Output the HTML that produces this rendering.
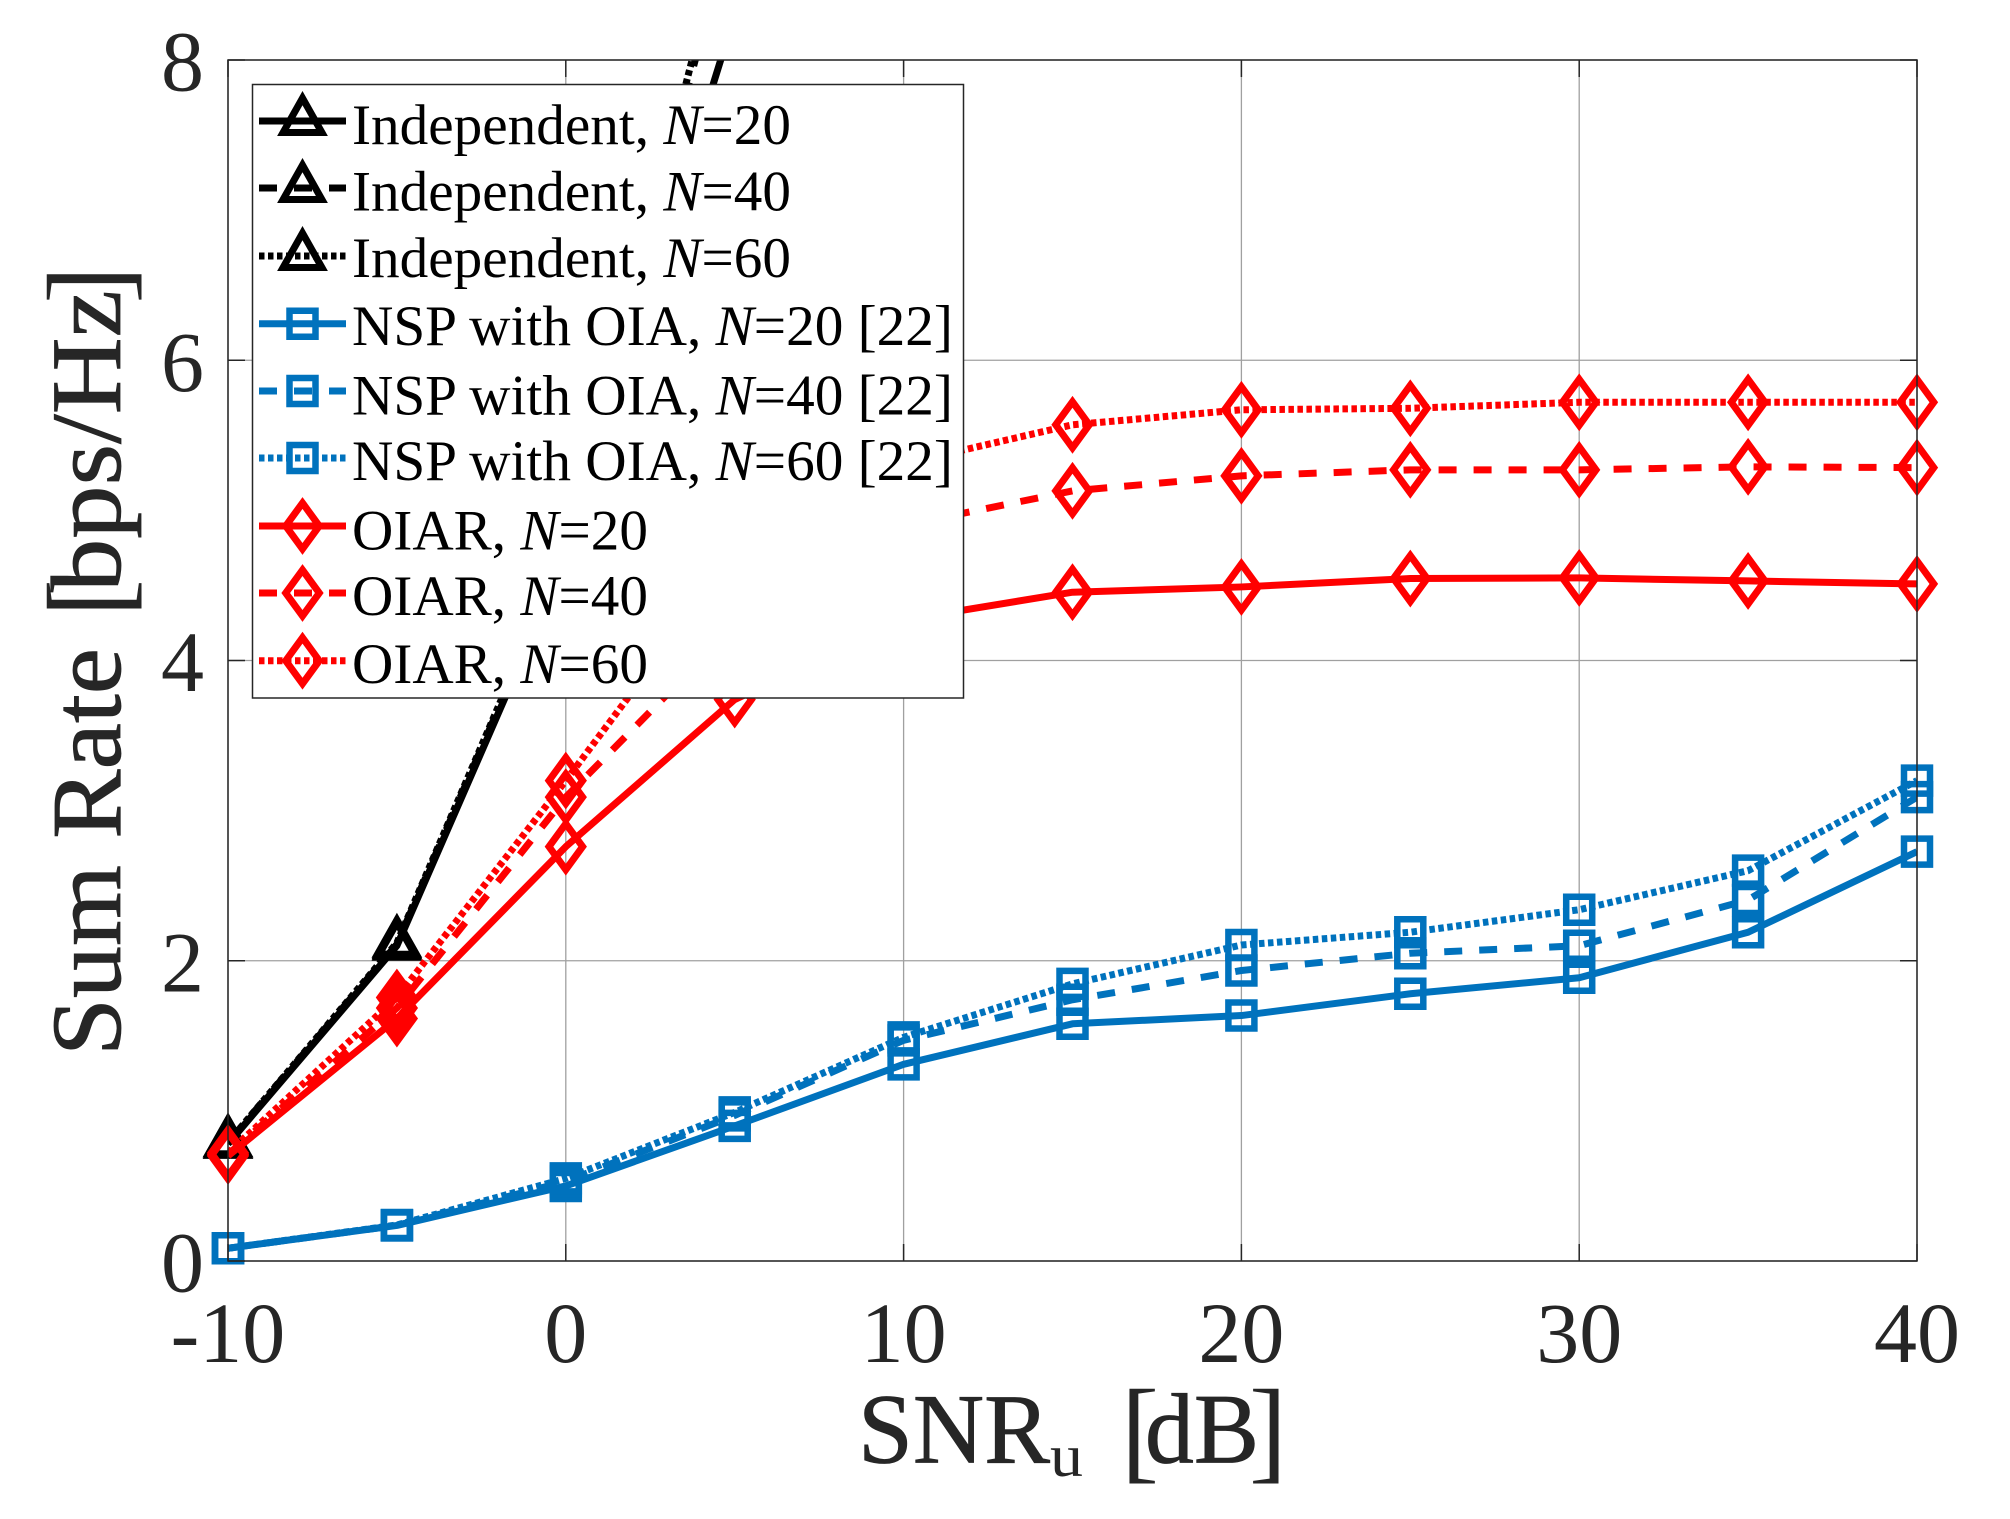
<!DOCTYPE html>
<html>
<head>
<meta charset="utf-8">
<title>Sum Rate vs SNR</title>
<style>
html,body{margin:0;padding:0;background:#fff;}
svg{display:block;}
text{font-family:"Liberation Serif",serif;}
</style>
</head>
<body>
<svg id="chart" xmlns="http://www.w3.org/2000/svg" width="2010" height="1519" viewBox="0 0 2010 1519">
  <defs><clipPath id="plot-clip"><rect x="228" y="60" width="1689" height="1201"/></clipPath></defs>
  <rect x="228" y="60" width="1689" height="1201" fill="#fff"/>
  <g id="grid"></g>
  <g id="series"></g>
  <g id="axes"></g>

  <g fill="#262626" stroke="#262626" stroke-width="0.8">
    <text x="858" y="1462.5" font-size="100" textLength="192" lengthAdjust="spacingAndGlyphs">SNR</text>
    <text x="1050" y="1476" font-size="60" stroke="none" textLength="33" lengthAdjust="spacingAndGlyphs">u</text>
    <text x="1121" y="1468" font-size="114" stroke="none">[</text>
    <text x="1145" y="1462.5" font-size="100" textLength="114" lengthAdjust="spacingAndGlyphs">dB</text>
    <text x="1249" y="1468" font-size="114" stroke="none">]</text>
  </g>
  <g fill="#262626" stroke="#262626" stroke-width="0.8">
    <text transform="translate(120,1056) rotate(-90)" font-size="100" textLength="408" lengthAdjust="spacingAndGlyphs">Sum Rate</text>
    <text transform="translate(126,617) rotate(-90)" font-size="114" stroke="none">[</text>
    <text transform="translate(120,592) rotate(-90)" font-size="100" textLength="302" lengthAdjust="spacingAndGlyphs">bps/Hz</text>
    <text transform="translate(126,303.7) rotate(-90)" font-size="114" stroke="none">]</text>
  </g>

  <g>
    <rect x="252.5" y="84.5" width="711" height="613.5" fill="#fff" stroke="#262626" stroke-width="1.5"/>

    <g>
      <line x1="259" x2="346" y1="121" y2="121" stroke="#000" stroke-width="7"/>
      <path d="M0,-22.9 L19.4,11.5 L-19.4,11.5Z" transform="translate(302.5,121)" fill="none" stroke="#000" stroke-width="7"/>
      <text x="352" y="144" font-size="57" textLength="439" lengthAdjust="spacingAndGlyphs">Independent, <tspan font-style="italic">N</tspan>=20</text>
    </g>
    <g>
      <line x1="259" x2="346" y1="188" y2="188" stroke="#000" stroke-width="7" stroke-dasharray="18 17"/>
      <path d="M0,-22.9 L19.4,11.5 L-19.4,11.5Z" transform="translate(302.5,188)" fill="none" stroke="#000" stroke-width="7"/>
      <text x="352" y="210.7" font-size="57" textLength="439" lengthAdjust="spacingAndGlyphs">Independent, <tspan font-style="italic">N</tspan>=40</text>
    </g>
    <g>
      <line x1="259" x2="346" y1="256" y2="256" stroke="#000" stroke-width="7" stroke-dasharray="5.5 3.5"/>
      <path d="M0,-22.9 L19.4,11.5 L-19.4,11.5Z" transform="translate(302.5,256)" fill="none" stroke="#000" stroke-width="7"/>
      <text x="352" y="277" font-size="57" textLength="439" lengthAdjust="spacingAndGlyphs">Independent, <tspan font-style="italic">N</tspan>=60</text>
    </g>

    <g>
      <line x1="259" x2="346" y1="323.7" y2="323.7" stroke="#0072BD" stroke-width="7"/>
      <path d="M-13,-13 h26 v26 h-26Z" transform="translate(302.5,323.7)" fill="none" stroke="#0072BD" stroke-width="6.5"/>
      <text x="352" y="345" font-size="57" textLength="601" lengthAdjust="spacingAndGlyphs">NSP with OIA, <tspan font-style="italic">N</tspan>=20 [22]</text>
    </g>
    <g>
      <line x1="259" x2="346" y1="391" y2="391" stroke="#0072BD" stroke-width="7" stroke-dasharray="18 17"/>
      <path d="M-13,-13 h26 v26 h-26Z" transform="translate(302.5,391)" fill="none" stroke="#0072BD" stroke-width="6.5"/>
      <text x="352" y="414.5" font-size="57" textLength="601" lengthAdjust="spacingAndGlyphs">NSP with OIA, <tspan font-style="italic">N</tspan>=40 [22]</text>
    </g>
    <g>
      <line x1="259" x2="346" y1="458" y2="458" stroke="#0072BD" stroke-width="7" stroke-dasharray="5.5 3.5"/>
      <path d="M-13,-13 h26 v26 h-26Z" transform="translate(302.5,458)" fill="none" stroke="#0072BD" stroke-width="6.5"/>
      <text x="352" y="480" font-size="57" textLength="601" lengthAdjust="spacingAndGlyphs">NSP with OIA, <tspan font-style="italic">N</tspan>=60 [22]</text>
    </g>

    <g>
      <line x1="259" x2="346" y1="526" y2="526" stroke="#FF0000" stroke-width="7"/>
      <path d="M0,-23 L16.8,0 L0,23 L-16.8,0Z" transform="translate(302.5,526)" fill="none" stroke="#FF0000" stroke-width="7"/>
      <text x="352" y="549.5" font-size="57" textLength="296" lengthAdjust="spacingAndGlyphs">OIAR, <tspan font-style="italic">N</tspan>=20</text>
    </g>
    <g>
      <line x1="259" x2="346" y1="593" y2="593" stroke="#FF0000" stroke-width="7" stroke-dasharray="18 17"/>
      <path d="M0,-23 L16.8,0 L0,23 L-16.8,0Z" transform="translate(302.5,593)" fill="none" stroke="#FF0000" stroke-width="7"/>
      <text x="352" y="615" font-size="57" textLength="296" lengthAdjust="spacingAndGlyphs">OIAR, <tspan font-style="italic">N</tspan>=40</text>
    </g>
    <g>
      <line x1="259" x2="346" y1="660.7" y2="660.7" stroke="#FF0000" stroke-width="7" stroke-dasharray="5.5 3.5"/>
      <path d="M0,-23 L16.8,0 L0,23 L-16.8,0Z" transform="translate(302.5,660.7)" fill="none" stroke="#FF0000" stroke-width="7"/>
      <text x="352" y="683" font-size="57" textLength="296" lengthAdjust="spacingAndGlyphs">OIAR, <tspan font-style="italic">N</tspan>=60</text>
    </g>
  </g>
</svg>
<script>
const snrValues = [-10, -5, 0, 5, 10, 15, 20, 25, 30, 35, 40];
const xTickValues = [-10, 0, 10, 20, 30, 40];
const yTickValues = [0, 2, 4, 6, 8];

const independentN20 = [0.78, 2.10, 4.68, 8.30];
const independentN40 = [0.79, 2.11, 4.72, 9.00];
const independentN60 = [0.79, 2.12, 4.74, 9.10];

const nspN20 = [0.085, 0.237, 0.50, 0.90, 1.31, 1.58, 1.635, 1.78, 1.887, 2.19, 2.727];
const nspN40 = [0.085, 0.237, 0.53, 0.97, 1.47, 1.74, 1.935, 2.05, 2.10, 2.405, 3.09];
const nspN60 = [0.085, 0.240, 0.55, 0.99, 1.49, 1.846, 2.105, 2.19, 2.34, 2.60, 3.20];

const oiarN20 = [0.70, 1.615, 2.76, 3.74, 4.27, 4.455, 4.49, 4.546, 4.55, 4.53, 4.51];
const oiarN40 = [0.71, 1.685, 3.09, 4.23, 4.90, 5.13, 5.23, 5.27, 5.27, 5.29, 5.285];
const oiarN60 = [0.72, 1.755, 3.20, 4.70, 5.31, 5.57, 5.67, 5.68, 5.72, 5.72, 5.72];

const NS = 'http://www.w3.org/2000/svg';
const AX = { left: 228, right: 1917, top: 60, bottom: 1261, xMin: -10, xMax: 40, yMin: 0, yMax: 8 };
function xScale(v) { return AX.left + (v - AX.xMin) / (AX.xMax - AX.xMin) * (AX.right - AX.left); }
function yScale(v) { return AX.bottom - (v - AX.yMin) / (AX.yMax - AX.yMin) * (AX.bottom - AX.top); }

const MARKERS = {
  triangle: { d: 'M0,-22.9 L19.4,11.5 L-19.4,11.5Z', sw: 7 },
  square: { d: 'M-13,-13 h26 v26 h-26Z', sw: 6.5 },
  diamond: { d: 'M0,-23 L16.8,0 L0,23 L-16.8,0Z', sw: 7 }
};
const DASH = { solid: null, dashed: '18 17', dotted: '5.5 3.5' };

function make(tag, attrs, parent) {
  const el = document.createElementNS(NS, tag);
  for (const k in attrs) el.setAttribute(k, attrs[k]);
  parent.appendChild(el);
  return el;
}

const gridG = document.getElementById('grid');
const axesG = document.getElementById('axes');
const seriesG = document.getElementById('series');

xTickValues.forEach(function (t) {
  const x = xScale(t);
  const g = make('line', { x1: x, x2: x, y1: AX.top, y2: AX.bottom, stroke: '#a0a0a0', 'stroke-width': 1.3 }, gridG);
  
  
  const tb = make('line', { x1: x, x2: x, y1: AX.bottom, y2: AX.bottom - 17, stroke: '#262626', 'stroke-width': 1.5 }, axesG);
  
  
  const tt = make('line', { x1: x, x2: x, y1: AX.top, y2: AX.top + 17, stroke: '#262626', 'stroke-width': 1.5 }, axesG);
  
  
  const lab = make('text', { x: x, y: 1362, 'text-anchor': 'middle', 'font-size': 86, fill: '#262626' }, axesG);
  
  
  lab.textContent = String(t);
});

yTickValues.forEach(function (t) {
  const y = yScale(t);
  const g = make('line', { x1: AX.left, x2: AX.right, y1: y, y2: y, stroke: '#a0a0a0', 'stroke-width': 1.3 }, gridG);
  
  
  const tl = make('line', { x1: AX.left, x2: AX.left + 17, y1: y, y2: y, stroke: '#262626', 'stroke-width': 1.5 }, axesG);
  
  
  const tr = make('line', { x1: AX.right, x2: AX.right - 17, y1: y, y2: y, stroke: '#262626', 'stroke-width': 1.5 }, axesG);
  
  
  const lab = make('text', { x: 204, y: y + 30.5, 'text-anchor': 'end', 'font-size': 86, fill: '#262626' }, axesG);
  
  
  lab.textContent = String(t);
});

const frame = make('rect', { x: AX.left, y: AX.top, width: AX.right - AX.left, height: AX.bottom - AX.top, fill: 'none', stroke: '#262626', 'stroke-width': 1.5 }, axesG);



function drawSeries(name, values, color, style, markerKey) {
  const g = make('g', {}, seriesG);
  
  
  const pts = values.map(function (v, i) { return xScale(snrValues[i]) + ',' + yScale(v); }).join(' ');
  const attrs = { points: pts, fill: 'none', stroke: color, 'stroke-width': 7, 'stroke-linejoin': 'round', 'clip-path': 'url(#plot-clip)' };
  if (DASH[style]) attrs['stroke-dasharray'] = DASH[style];
  const line = make('polyline', attrs, g);
  
  
  const m = MARKERS[markerKey];
  values.forEach(function (v, i) {
    if (v > AX.yMax || v < AX.yMin) return;
    const p = make('path', { d: m.d, transform: 'translate(' + xScale(snrValues[i]) + ',' + yScale(v) + ')', fill: 'none', stroke: color, 'stroke-width': m.sw }, g);
    
    
  });
}

drawSeries('independent-n20', independentN20, '#000000', 'solid', 'triangle');
drawSeries('independent-n40', independentN40, '#000000', 'dashed', 'triangle');
drawSeries('independent-n60', independentN60, '#000000', 'dotted', 'triangle');
drawSeries('nsp-n20', nspN20, '#0072BD', 'solid', 'square');
drawSeries('nsp-n40', nspN40, '#0072BD', 'dashed', 'square');
drawSeries('nsp-n60', nspN60, '#0072BD', 'dotted', 'square');
drawSeries('oiar-n20', oiarN20, '#FF0000', 'solid', 'diamond');
drawSeries('oiar-n40', oiarN40, '#FF0000', 'dashed', 'diamond');
drawSeries('oiar-n60', oiarN60, '#FF0000', 'dotted', 'diamond');
</script>
</body>
</html>
